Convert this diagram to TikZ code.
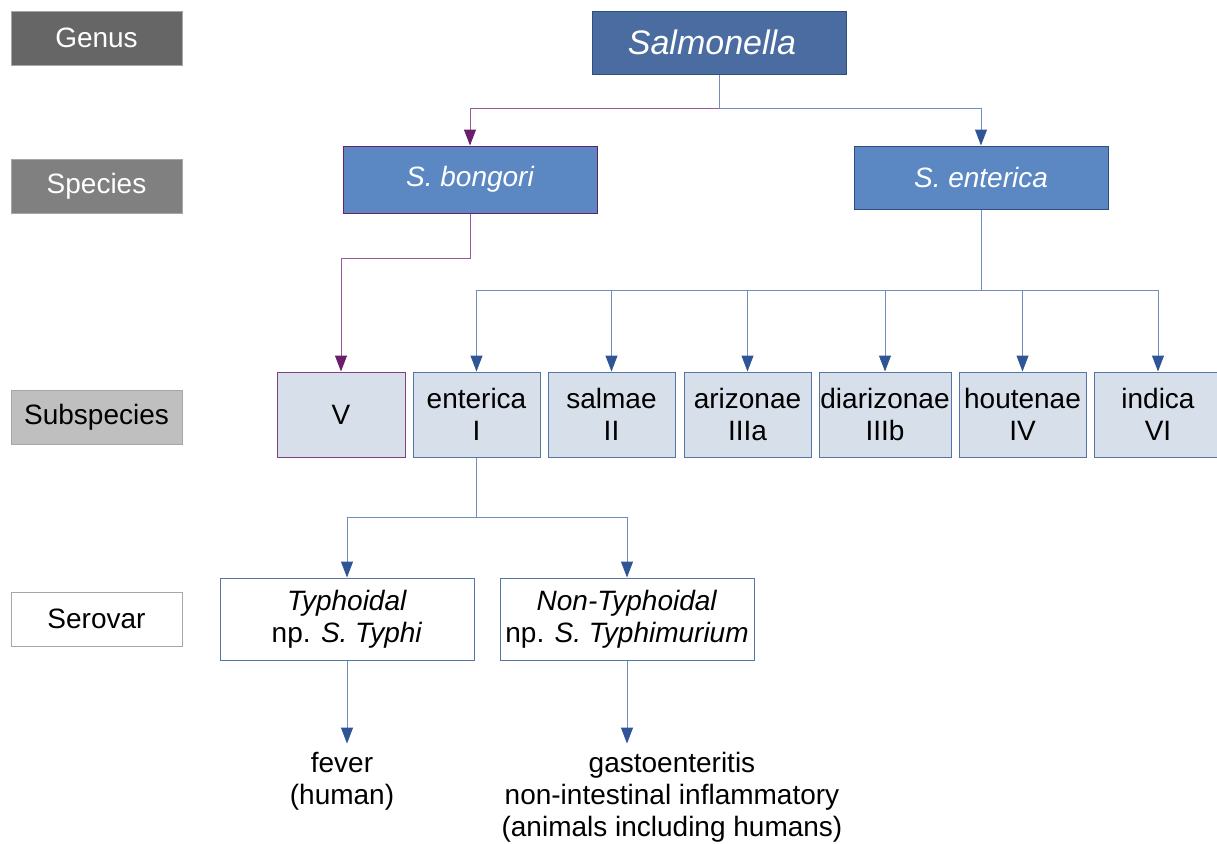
\documentclass[tikz,border=0pt]{standalone}
\usepackage{fontspec}
\setmainfont{Liberation Sans}
\usetikzlibrary{arrows.meta}
\definecolor{genfill}{HTML}{4A6CA0}
\definecolor{genline}{HTML}{2E4E80}
\definecolor{spfill}{HTML}{5B88C2}
\definecolor{ssfill}{HTML}{D6DFEA}
\definecolor{ssline}{HTML}{5575A5}
\definecolor{purp}{HTML}{6B1F6B}
\definecolor{lnpurp}{HTML}{9A5A9A}
\definecolor{lnblue}{HTML}{6F8EBF}
\definecolor{tipblue}{HTML}{2F5597}

\begin{document}
\begin{tikzpicture}[x=.5pt,y=-.5pt,font=\fontsize{14}{16}\selectfont,
 lvl/.style={draw=black!35,line width=.5pt,minimum width=85.5pt,minimum height=27pt,inner sep=0pt},
 spbox/.style={draw=#1,fill=spfill,text=white,line width=.5pt,minimum width=127pt,inner sep=0pt,font=\fontsize{14}{16}\selectfont\itshape},
 ssbox/.style={draw=#1,fill=ssfill,line width=.5pt,minimum height=42.5pt,align=center,inner sep=0pt},
 svbox/.style={draw=ssline,fill=white,line width=.5pt,minimum width=127pt,minimum height=41pt,align=center,inner sep=0pt},
 bl/.style={draw=lnblue,line width=.5pt,-{Triangle[width=6pt,length=8pt,color=tipblue]}},
 pu/.style={draw=lnpurp,line width=.5pt,-{Triangle[width=6pt,length=8pt,color=purp]}}]
\useasboundingbox (0,0) rectangle (1217,843);

\node[lvl,fill=black!60,text=white] (genus) at (96.5,38) {Genus};
\node[lvl,fill=black!50,text=white] (species) at (96.5,186.5) {Species};
\node[lvl,fill=black!25] (subspecies) at (96.5,417) {Subspecies};
\node[lvl,fill=white] (serovar) at (96.5,619) {Serovar};

\node[draw=genline,fill=genfill,text=white,line width=.5pt,minimum width=127pt,minimum height=31.5pt,font=\fontsize{17}{20}\selectfont\itshape] (salm) at (719,42.5) {Salmonella\hspace*{7pt}};
\node[spbox=purp,minimum height=33.5pt] (bong) at (470,179.5) {S. bongori};
\node[spbox=genline,minimum height=31.5pt] (sent) at (981,177.5) {S. enterica};

\node[ssbox=purp!85,minimum width=64pt] (ssV) at (341,414.5) {V};
\foreach \nm/\x/\w/\lab in {ssI/476.5/63.5/{enterica\\I},ssII/611.5/63.5/{salmae\\II},ssIIIa/747.5/63.5/{arizonae\\IIIa},ssIIIb/885/66/{diarizonae\\IIIb},ssIV/1022.5/63.5/{houtenae\\IV},ssVI/1158/63.5/{indica\\VI}}{
 \node[ssbox=ssline,minimum width=\w pt] (\nm) at (\x,414.5) {\lab};
}

\node[svbox] (typh) at (347,619) {\textit{Typhoidal}\\np. \textit{S. Typhi}};
\node[svbox] (ntyph) at (627,619) {\textit{Non-Typhoidal}\\np. \textit{S. Typhimurium}};

\node[align=center,inner sep=4pt] (fev) at (342,781) {fever\\(human)};
\node[align=center,inner sep=4pt] (gas) at (672,797) {gastoenteritis\\non-intestinal inflammatory\\(animals including humans)};

\draw[pu] (salm.south) -- ++(0,34) -| (bong.north);
\draw[bl] (salm.south) -- ++(0,34) -| (sent.north);
\draw[pu] (bong.south) -- ++(0,45) -| (ssV.north);
\foreach \nm in {ssI,ssII,ssIIIa,ssIIIb,ssIV,ssVI}{\draw[bl] (sent.south) -- ++(0,81) -| (\nm.north);}
\draw[bl] (ssI.south) -- ++(0,60) -| (typh.north);
\draw[bl] (ssI.south) -- ++(0,60) -| (ntyph.north);
\draw[bl] (typh.south) -- (typh.south |- fev.north);
\draw[bl] (ntyph.south) -- (ntyph.south |- gas.north);
\end{tikzpicture}
\end{document}
